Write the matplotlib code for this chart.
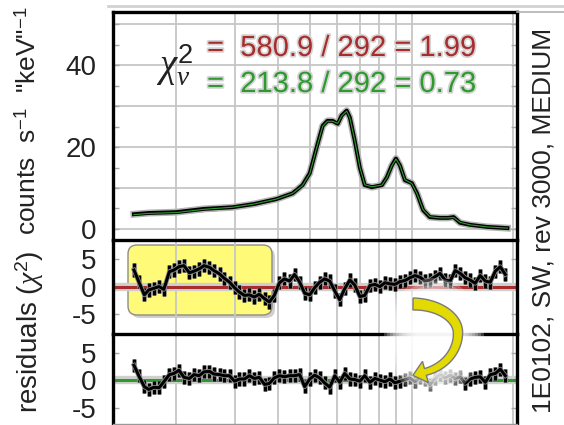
import matplotlib.pyplot as plt
import matplotlib.patheffects as pe
import numpy as np
from matplotlib.patches import FancyBboxPatch, Ellipse, Polygon
from matplotlib.lines import Line2D
from matplotlib.transforms import Affine2D

plt.rcParams['font.family'] = ['Liberation Sans', 'DejaVu Sans']
plt.rcParams['mathtext.fontset'] = 'custom'
plt.rcParams['mathtext.rm'] = 'Liberation Sans'
plt.rcParams['mathtext.it'] = 'Liberation Serif:italic'
plt.rcParams['mathtext.bf'] = 'Liberation Sans:bold'
plt.rcParams['axes.unicode_minus'] = False

# spectrum: energy (keV), counts s^-1 keV^-1
energy = [0.150, 0.166, 0.200, 0.242, 0.294, 0.341, 0.397, 0.443, 0.474, 0.498,
          0.522, 0.544, 0.562, 0.582, 0.603, 0.619, 0.641, 0.655, 0.677, 0.701,
          0.725, 0.761, 0.815, 0.843, 0.872, 0.897, 0.922, 0.954, 1.000, 1.036,
          1.080, 1.130, 1.210, 1.280, 1.330, 1.390, 1.490, 1.670, 1.920]
counts = [3.6, 3.9, 4.1, 4.9, 5.3, 6.1, 7.3, 8.7, 10.7, 13.6,
          19.9, 25.2, 26.4, 26.4, 25.7, 27.7, 28.9, 27.2, 21.6, 15.0,
          10.7, 10.2, 10.7, 12.6, 15.5, 17.2, 15.5, 11.9, 11.2, 8.7,
          4.6, 2.9, 2.7, 2.7, 2.9, 1.5, 1.0, 0.5, 0.2]
model_red = [3.2, 3.5, 3.7, 4.4, 4.9, 5.7, 7.0, 8.5, 10.6, 13.6,
             19.8, 25.0, 26.6, 26.6, 25.9, 27.5, 28.6, 27.0, 21.8, 15.2,
             11.0, 10.4, 10.8, 12.5, 15.2, 17.0, 15.7, 12.1, 11.0, 8.5,
             4.8, 3.1, 2.8, 2.6, 2.7, 1.6, 1.0, 0.5, 0.2]
model_green = [3.5, 3.8, 4.0, 4.8, 5.3, 6.1, 7.3, 8.7, 10.6, 13.5,
               19.8, 25.1, 26.3, 26.3, 25.8, 27.6, 28.8, 27.1, 21.7, 15.1,
               10.8, 10.3, 10.7, 12.5, 15.4, 17.1, 15.5, 12.0, 11.1, 8.6,
               4.7, 3.0, 2.7, 2.7, 2.8, 1.6, 1.0, 0.5, 0.2]

# residual bins (keV) and chi residuals for the two models
res_energy = [0.150, 0.155, 0.161, 0.166, 0.172, 0.178, 0.184, 0.191, 0.197, 0.204,
              0.211, 0.219, 0.226, 0.234, 0.242, 0.251, 0.259, 0.269, 0.278, 0.288,
              0.298, 0.308, 0.319, 0.330, 0.341, 0.353, 0.366, 0.378, 0.391, 0.405,
              0.419, 0.434, 0.449, 0.465, 0.481, 0.498, 0.515, 0.533, 0.551, 0.571,
              0.591, 0.611, 0.632, 0.655, 0.677, 0.701, 0.725, 0.751, 0.777, 0.804,
              0.832, 0.861, 0.891, 0.922, 0.954, 0.987, 1.022, 1.057, 1.094, 1.132,
              1.172, 1.212, 1.255, 1.299, 1.344, 1.391, 1.439, 1.489, 1.541, 1.595,
              1.651, 1.708, 1.768, 1.829, 1.893]
res_red = [3.0, 0.9, -1.5, -0.6, -0.3, 0.0, -0.5, 2.7, 3.0, 3.6,
           3.8, 2.5, 2.8, 3.2, 3.8, 3.5, 2.9, 2.3, 1.5, 0.8,
           -0.2, -1.0, -1.6, -1.5, -1.9, -1.4, -2.2, -2.8, -1.6, 0.7,
           1.4, 1.0, 2.2, 0.8, -1.2, -1.5, -0.2, 0.8, 1.4, 1.0,
           -0.8, -2.4, -0.4, 1.2, 0.3, -1.8, -1.6, 0.2, 0.4, 0.0,
           0.7, 0.5, 0.4, 0.9, 1.1, 1.6, 2.0, 1.7, 1.0, 1.2,
           1.8, 2.4, 1.2, 1.0, 2.9, 2.4, 1.6, 1.2, 0.6, 2.0,
           1.0, 0.8, 2.8, 3.6, 2.2]
res_green = [2.7, 0.8, -1.2, -1.7, -1.3, -1.4, -0.3, 1.0, 1.2, 1.8,
             0.5, 0.3, 1.0, 0.8, 1.5, 1.6, 1.1, 1.0, 0.8, 0.8,
             -0.2, 0.2, 0.2, 0.8, 0.3, 0.5, -0.8, -0.6, 0.4, 0.8,
             0.6, 0.8, 0.8, 1.0, -1.2, 0.2, 0.9, 0.4, -0.5, -1.3,
             0.8, -0.4, 1.2, 0.2, 0.1, -0.2, 0.8, -0.4, 0.3, 0.0,
             -0.3, 0.2, -0.5, -0.2, 0.1, 0.4, -0.3, 0.5, 0.2, -0.8,
             0.3, 1.1, 0.4, 0.9, 0.3, 0.6, -0.6, 0.2, 0.5, 0.6,
             -0.4, 1.0, 1.2, 2.0, 0.8]

grid_energy = [0.2, 0.3, 0.4, 0.5, 0.6, 0.7, 0.8, 0.9, 1.0, 2.0]
chi_red = "=  580.9 / 292 = 1.99"
chi_green = "=  213.8 / 292 = 0.73"
obs_label = "1E0102, SW, rev 3000, MEDIUM"

RED = '#a82c2c'
GREEN = '#2e9a2e'
GRID = '#c6c6c6'

W, H = 564, 425
fig = plt.figure(figsize=(W / 100, H / 100), dpi=100)
# pixel coordinates, origin top-left
px = Affine2D().scale(1 / 100, -1 / 100).translate(0, H / 100) + fig.dpi_scale_trans


def frame(x0, y0, x1, y1):
    return [x0 / W, 1 - y1 / H, (x1 - x0) / W, (y1 - y0) / H]


ax1 = fig.add_axes(frame(113, 12, 517, 240))
ax2 = fig.add_axes(frame(113, 240, 517, 334))
ax3 = fig.add_axes(frame(113, 334, 517, 424))

for ax in (ax1, ax2, ax3):
    ax.set_xscale('log')
    ax.set_xlim(0.13, 2.05)
    ax.tick_params(axis='x', which='both', bottom=False, top=False,
                   labelbottom=False)
    ax.tick_params(axis='y', which='both', direction='in', length=4, width=1,
                   color='#a8a8a8', labelsize=20, pad=12, right=True,
                   labelcolor='#222222')
    for e in grid_energy:
        ax.axvline(e, color=GRID, lw=1.3, zorder=1)
    for s in ('left', 'right', 'top'):
        ax.spines[s].set_linewidth(2.4)
        ax.spines[s].set_color('black')
    ax.spines['bottom'].set_visible(False)
ax3.spines['bottom'].set_visible(True)
ax3.spines['bottom'].set_color('#999999')
ax3.spines['bottom'].set_linewidth(1)

# spectrum panel
halo = [pe.Stroke(linewidth=5, foreground='#b4b4b4'), pe.Normal()]
for v in range(0, 51, 10):
    ax1.axhline(v, color=GRID, lw=1.3, zorder=1)
ax1.plot(energy, model_red, color=RED, lw=1.6, zorder=2)
ax1.plot(energy, counts, color='black', lw=2.8, path_effects=halo, zorder=3)
ax1.plot(energy, model_green, color=GREEN, lw=0.8, zorder=4)
ax1.set_ylim(-2.7, 53)
ax1.set_yticks(range(0, 55, 5))
ax1.set_yticklabels(['0', '', '', '', '20', '', '', '', '40', '', ''])

# residual panels
bar_halo = [pe.Stroke(linewidth=3.4, foreground='#8f8f8f'), pe.Normal()]
for ax, res, col, lims in ((ax2, res_red, RED, (-8.6, 8.45)),
                           (ax3, res_green, GREEN, (-8.0, 8.4))):
    ax.axhline(0, color='#cfcfcf', lw=6, zorder=1.5)
    ax.axhline(0, color=col, lw=2.2, zorder=2)
    eb = ax.errorbar(res_energy, res, yerr=1.2, fmt='none', ecolor='black',
                     elinewidth=2.2, zorder=4)
    for c in eb[2]:
        c.set_path_effects(bar_halo)
    ax.plot(res_energy, res, color='black', lw=2.2, path_effects=bar_halo,
            zorder=4)
    ax.set_ylim(*lims)
    ax.set_yticks([-5, 0, 5])
    ax.set_yticklabels(['-5', '0', '5'])

# highlight box behind the low-energy residuals
shadow = FancyBboxPatch((131, 248), 144, 70, boxstyle='round,pad=0,rounding_size=9',
                        transform=px, fc='#777777', ec='none', alpha=0.35,
                        zorder=0.5, clip_on=False)
box = FancyBboxPatch((128, 245), 144, 70, boxstyle='round,pad=0,rounding_size=9',
                     transform=px, fc='#fffa78', ec='#8c8c8c', lw=1.0,
                     zorder=0.6, clip_on=False)
ax2.add_patch(shadow)
ax2.add_patch(box)

# soft white glow behind the arrow
for s in np.linspace(1.0, 0.35, 12):
    fig.add_artist(Ellipse((434, 337), 100 * s, 118 * s, transform=px,
                           fc='white', ec='none', alpha=0.24))

# curved arrow from the top residuals down to the bottom residuals
phi = np.linspace(-np.pi / 2, np.radians(74), 80)
ry = np.where(phi < 0, 29, 40.5)
xs = 413 + 45 * np.cos(phi)
ys = 333 + ry * np.sin(phi)
half = np.linspace(6.0, 3.5, phi.size)
tx, ty = np.gradient(xs), np.gradient(ys)
tn = np.hypot(tx, ty)
tx, ty = tx / tn, ty / tn
nx, ny = -ty, tx
side_a = np.column_stack([xs + half * nx, ys + half * ny])
side_b = np.column_stack([xs - half * nx, ys - half * ny])
xe, ye = xs[-1], ys[-1]
head = np.array([[xe + 11 * nx[-1], ye + 11 * ny[-1]],
                 [xe + 13 * tx[-1], ye + 13 * ty[-1]],
                 [xe - 11 * nx[-1], ye - 11 * ny[-1]]])
outline = np.vstack([side_a, head, side_b[::-1]])
fig.add_artist(Polygon(outline, closed=True, transform=px, fc='#e2da00',
                       ec='#7a7a7a', lw=1.0))

# frame lines outside the axes
fig.add_artist(Line2D([108, 564], [6, 6], transform=px, color='#d2d2d2', lw=2))
fig.add_artist(Line2D([517, 564], [12, 12], transform=px, color='#b0b0b0', lw=1.2))

# text
text_halo = [pe.withStroke(linewidth=2.5, foreground='#d4d4d4')]
fig.text(175 / W, 1 - 65 / H, r'$\chi^2_\nu$', fontsize=28, ha='center',
         va='center', color='#222222')
fig.text(207 / W, 1 - 48 / H, chi_red, color=RED, fontsize=21, ha='left',
         va='center', path_effects=text_halo)
fig.text(207 / W, 1 - 84 / H, chi_green, color=GREEN, fontsize=21, ha='left',
         va='center', path_effects=text_halo)
fig.text(28 / W, 1 - 121 / H, r'counts  s$^{-1}$  "keV"$^{-1}$', rotation=90,
         fontsize=19, ha='center', va='center', color='#222222')
fig.text(30 / W, 1 - 332 / H, r'residuals ($\chi^2$)', rotation=90,
         fontsize=20, ha='center', va='center', color='#222222')
fig.text(543 / W, 1 - 220 / H, obs_label, rotation=90, fontsize=19,
         ha='center', va='center', color='#222222')

fig.savefig('out.png', dpi=100)
